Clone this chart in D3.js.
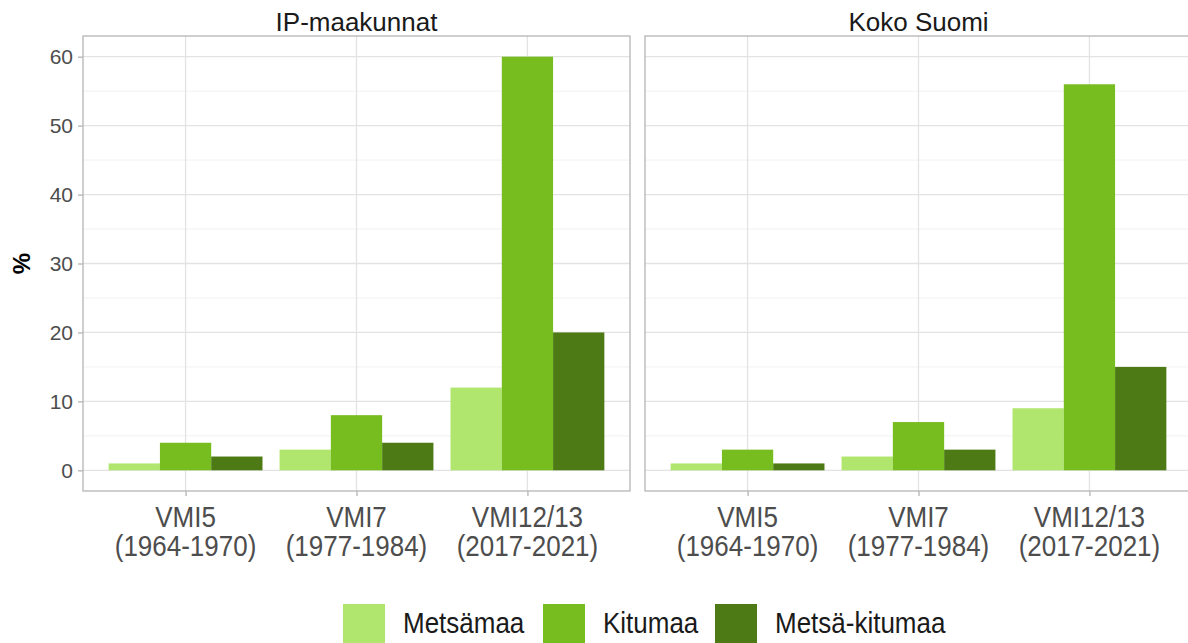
<!DOCTYPE html>
<html>
<head>
<meta charset="utf-8">
<script src="https://cdn.jsdelivr.net/npm/d3@7"></script>
<style>
    body { margin: 0; background: #fff; }
    svg { display: block; font-family: 'Liberation Sans', Arial, sans-serif; }
</style>
</head>
<body>
<svg id="chart"></svg>
<script>
// data
const panels = ['IP-maakunnat', 'Koko Suomi']
const periods = ['VMI5', 'VMI7', 'VMI12/13']
const periodYears = ['(1964-1970)', '(1977-1984)', '(2017-2021)']
const classes = ['Metsämaa', 'Kitumaa', 'Metsä-kitumaa']
const colors = ['#b0e56e', '#78bd20', '#4d7a15']

// values per panel, one row per period, columns follow classes
const ipValues = [
    [1, 4, 2],
    [3, 8, 4],
    [12, 60, 20]
]
const suomiValues = [
    [1, 3, 1],
    [2, 7, 3],
    [9, 56, 15]
]
const panelValues = [ipValues, suomiValues]

const yTicks = [0, 10, 20, 30, 40, 50, 60]
const yMinor = [5, 15, 25, 35, 45, 55]

class Chart
{
    constructor(svgElement)
    {
        this.width = 1188
        this.height = 643

        this.svg = d3.select(svgElement)
            .attr('width', this.width)
            .attr('height', this.height)

        // layout
        this.panelLeft = [83, 645]
        this.panelWidth = 547
        this.top = 36
        this.bottom = 491

        this.gridMajor = '#e3e3e3'
        this.gridMinor = '#f1f1f1'
        this.border = '#b5b5b5'
        this.tickText = '#4d4d4d'
        this.stretch = 1.15 // text in the original is a bit taller than wide

        this.y = d3.scaleLinear()
            .domain([-3, 63])
            .range([this.bottom, this.top])

        this.color = d3.scaleOrdinal()
            .domain(classes)
            .range(colors)

        panels.forEach((name, i) => this.drawPanel(name, i))
        this.drawYAxis()
        this.drawLegend()
    }

    drawPanel(name, i)
    {
        const x0 = this.panelLeft[i]
        const g = this.svg.append('g')

        const x = d3.scalePoint()
            .domain(periods)
            .range([x0, x0 + this.panelWidth])
            .padding(0.6)

        const step = x.step()
        const dodge = d3.scaleBand()
            .domain(classes)
            .range([-0.45 * step, 0.45 * step])

        // grid
        g.selectAll('.minor')
            .data(yMinor)
            .join('line')
            .attr('x1', x0).attr('x2', x0 + this.panelWidth)
            .attr('y1', d => this.y(d)).attr('y2', d => this.y(d))
            .attr('stroke', this.gridMinor)
            .attr('stroke-width', 1)

        g.selectAll('.major')
            .data(yTicks)
            .join('line')
            .attr('x1', x0).attr('x2', x0 + this.panelWidth)
            .attr('y1', d => this.y(d)).attr('y2', d => this.y(d))
            .attr('stroke', this.gridMajor)
            .attr('stroke-width', 1.3)

        g.selectAll('.vgrid')
            .data(periods)
            .join('line')
            .attr('x1', d => x(d)).attr('x2', d => x(d))
            .attr('y1', this.top).attr('y2', this.bottom)
            .attr('stroke', this.gridMajor)
            .attr('stroke-width', 1.3)

        // bars
        const rows = panelValues[i].flatMap((row, p) =>
            row.map((v, c) => ({ period: periods[p], cls: classes[c], value: v })))

        g.selectAll('rect.bar')
            .data(rows)
            .join('rect')
            .attr('class', 'bar')
            .attr('x', d => x(d.period) + dodge(d.cls))
            .attr('width', dodge.bandwidth())
            .attr('y', d => this.y(d.value))
            .attr('height', d => this.y(0) - this.y(d.value))
            .attr('fill', d => this.color(d.cls))

        // border
        g.append('rect')
            .attr('x', x0).attr('y', this.top)
            .attr('width', this.panelWidth).attr('height', this.bottom - this.top)
            .attr('fill', 'none')
            .attr('stroke', this.border)
            .attr('stroke-width', 1.3)

        // x axis
        const xAxis = g.append('g')
            .attr('transform', `translate(0, ${this.bottom})`)
            .call(d3.axisBottom(x).tickSize(5).tickFormat(''))
        xAxis.select('.domain').remove()
        xAxis.selectAll('.tick line').attr('stroke', this.border).attr('stroke-width', 1.3)

        const labels = g.append('g')
            .attr('transform', `translate(0, 527) scale(1, ${this.stretch})`)
            .selectAll('text')
            .data(periods)
            .join('text')
            .attr('x', d => x(d))
            .attr('y', 0)
            .attr('text-anchor', 'middle')
            .attr('fill', this.tickText)
            .style('font-size', '26px')
        labels.append('tspan')
            .attr('x', d => x(d))
            .text(d => d)
        labels.append('tspan')
            .attr('x', d => x(d))
            .attr('dy', 29 / this.stretch)
            .text((d, k) => periodYears[k])

        // strip
        g.append('text')
            .attr('x', x0 + this.panelWidth / 2)
            .attr('y', 31)
            .attr('text-anchor', 'middle')
            .attr('fill', '#1a1a1a')
            .style('font-size', '26px')
            .text(name)
    }

    drawYAxis()
    {
        const axis = this.svg.append('g')
            .attr('transform', `translate(${this.panelLeft[0]}, 0)`)
            .call(d3.axisLeft(this.y).tickValues(yTicks).tickSize(5).tickPadding(5))
        axis.select('.domain').remove()
        axis.selectAll('.tick line').attr('stroke', this.border).attr('stroke-width', 1.3)
        axis.selectAll('.tick text')
            .attr('fill', this.tickText)
            .style('font-size', '21px')
            .style('font-family', "'Liberation Sans', Arial, sans-serif")

        this.svg.append('text')
            .attr('transform', `translate(30, ${(this.top + this.bottom) / 2}) rotate(-90)`)
            .attr('text-anchor', 'middle')
            .attr('fill', '#000')
            .style('font-size', '24px')
            .style('font-weight', 'bold')
            .text('%')
    }

    drawLegend()
    {
        const keyX = [343, 543, 715]
        const legend = this.svg.append('g')

        const item = legend.selectAll('g')
            .data(classes)
            .join('g')
            .attr('transform', (d, i) => `translate(${keyX[i]}, 604)`)

        item.append('rect')
            .attr('width', 42)
            .attr('height', 42)
            .attr('fill', d => this.color(d))

        item.append('text')
            .attr('transform', `translate(60, 29) scale(1, ${this.stretch})`)
            .attr('fill', '#1a1a1a')
            .style('font-size', '26px')
            .text(d => d)
    }
}

new Chart(document.getElementById('chart'))
</script>
</body>
</html>
